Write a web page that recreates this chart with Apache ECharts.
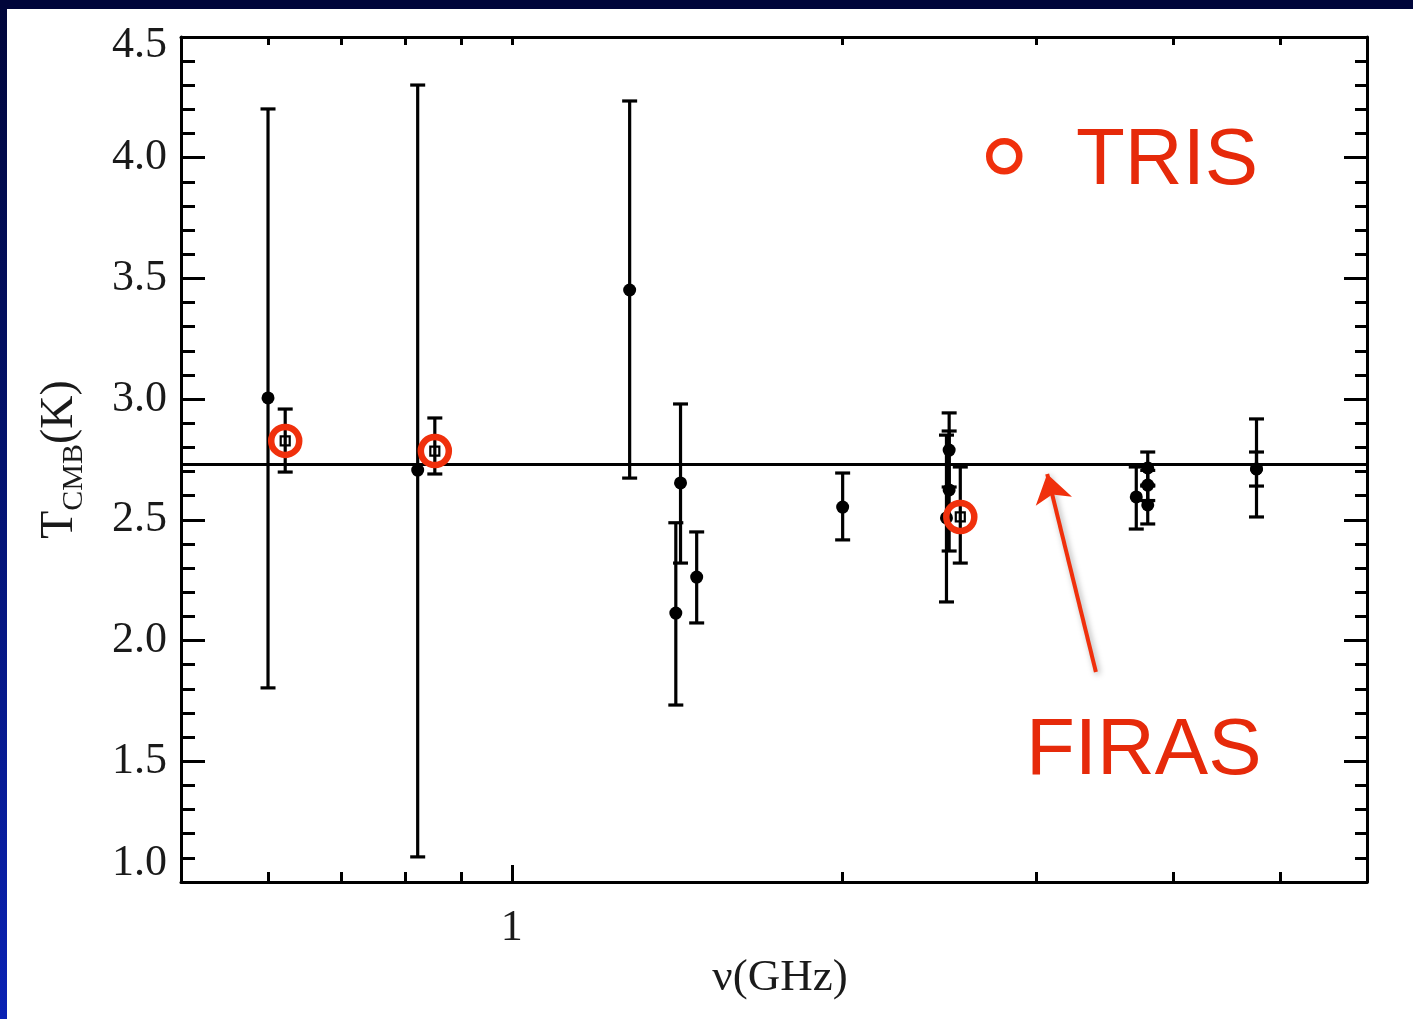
<!DOCTYPE html>
<html>
<head>
<meta charset="utf-8">
<script src="https://cdn.jsdelivr.net/npm/echarts@6/dist/echarts.min.js"></script>
<style>
  html, body { margin: 0; padding: 0; }
  body {
    width: 1413px; height: 1019px; overflow: hidden; position: relative;
    background: linear-gradient(to bottom, #00063a 0%, #03126e 45%, #0a22b4 100%);
  }
  #top { position: absolute; left: 0; top: 0; width: 1413px; height: 9px; background: #00053a; }
  #main { position: absolute; left: 7px; top: 9px; width: 1406px; height: 1010px; background: #fff; }
</style>
</head>
<body>
<div id="top"></div>
<div id="main"></div>
<script>
// T_CMB measurements vs frequency (log x)
var otherFreq = [0.600, 0.821, 1.28, 1.41, 1.424, 1.473, 2.00, 2.50, 2.50, 2.486, 3.70, 3.79, 3.79, 3.79, 4.76, 4.76];
var otherTemp = [3.005, 2.706, 3.452, 2.114, 2.653, 2.263, 2.553, 2.789, 2.624, 2.508, 2.595, 2.715, 2.644, 2.562, 2.711, 2.711];
var otherHigh = [4.202, 4.301, 4.235, 2.488, 2.980, 2.450, 2.694, 2.943, 2.868, 2.851, 2.719, 2.781, 2.705, 2.640, 2.781, 2.918];
var otherLow  = [1.804, 1.104, 2.673, 1.733, 2.321, 2.073, 2.417, 2.636, 2.371, 2.160, 2.462, 2.644, 2.580, 2.483, 2.640, 2.512];

var trisFreq = [0.622, 0.851, 2.559];
var trisTemp = [2.827, 2.785, 2.512];
var trisHigh = [2.959, 2.922, 2.719];
var trisLow  = [2.698, 2.690, 2.321];

var firasTemp = 2.725;
var arrowTail = [3.40, 1.87];
var arrowHead = [3.07, 2.69];

var xMinorTicks = [0.6, 0.7, 0.8, 0.9, 2, 3, 4, 5];
var xMajorTicks = [1];

var serif = 'Liberation Serif';
var red = '#f0300c';

function rows(f, t, hi, lo) {
    var out = [];
    for (var i = 0; i < f.length; i++) out.push([f[i], t[i], hi[i], lo[i]]);
    return out;
}

function errorBar(params, api) {
    var x = api.value(0);
    var top = api.coord([x, api.value(2)]);
    var bot = api.coord([x, api.value(3)]);
    var hw = 7.5;
    var st = { stroke: '#000', lineWidth: 3.2 };
    return {
        type: 'group',
        children: [
            { type: 'line', shape: { x1: top[0], y1: top[1], x2: bot[0], y2: bot[1] }, style: st },
            { type: 'line', shape: { x1: top[0] - hw, y1: top[1], x2: top[0] + hw, y2: top[1] }, style: st },
            { type: 'line', shape: { x1: bot[0] - hw, y1: bot[1], x2: bot[0] + hw, y2: bot[1] }, style: st }
        ]
    };
}

var otherData = rows(otherFreq, otherTemp, otherHigh, otherLow);
var trisData = rows(trisFreq, trisTemp, trisHigh, trisLow);

var chart = echarts.init(document.getElementById('main'));

var baseX = { type: 'log', logBase: 10, min: 0.5, max: 6, splitLine: { show: false } };
var baseY = { type: 'value', min: 1, max: 4.5, interval: 0.5, splitLine: { show: false } };

chart.setOption({
    animation: false,
    backgroundColor: '#fff',
    grid: { left: 174, right: 46, top: 28, bottom: 137, containLabel: false },
    xAxis: [
        echarts.util.merge({
            position: 'bottom',
            axisLine: { show: true, lineStyle: { color: '#000', width: 3 } },
            axisTick: { show: true, inside: true, length: 17, customValues: xMajorTicks, lineStyle: { color: '#000', width: 3 } },
            axisLabel: { show: true, customValues: xMajorTicks, margin: 24, fontFamily: serif, fontSize: 44, color: '#1a1a1a',
                formatter: function(v) { return String(Math.round(v)); } },
            name: 'ν(GHz)', nameLocation: 'middle', nameGap: 74,
            nameTextStyle: { fontFamily: serif, fontSize: 45, color: '#1a1a1a', padding: [0, 0, 0, 12] }
        }, baseX, true),
        echarts.util.merge({
            position: 'bottom',
            axisLine: { show: false },
            axisTick: { show: true, inside: true, length: 10, customValues: xMinorTicks, lineStyle: { color: '#000', width: 3 } },
            axisLabel: { show: false }
        }, baseX, true),
        echarts.util.merge({
            position: 'top',
            axisLine: { show: true, lineStyle: { color: '#000', width: 3 } },
            axisTick: { show: true, inside: true, length: 8, customValues: xMinorTicks.concat(xMajorTicks), lineStyle: { color: '#000', width: 3 } },
            axisLabel: { show: false }
        }, baseX, true)
    ],
    yAxis: [
        echarts.util.merge({
            position: 'left',
            axisLine: { show: true, lineStyle: { color: '#000', width: 3 } },
            axisTick: { show: true, inside: true, length: 24, lineStyle: { color: '#000', width: 3 } },
            minorTick: { show: true, splitNumber: 5, length: 14, lineStyle: { color: '#000', width: 3 } },
            axisLabel: { margin: 14, fontFamily: serif, fontSize: 44, color: '#1a1a1a',
                formatter: function(v) {
                    // end labels sit a little inside the frame, as in the original plot
                    if (v >= 4.5) return '{hi|' + v.toFixed(1) + '}';
                    if (v <= 1) return '{lo|' + v.toFixed(1) + '}';
                    return v.toFixed(1);
                },
                rich: {
                    hi: { fontFamily: serif, fontSize: 44, color: '#1a1a1a', padding: [16, 0, 0, 0] },
                    lo: { fontFamily: serif, fontSize: 44, color: '#1a1a1a', padding: [0, 0, 38, 0] }
                }
            },
            name: '{t|T}{s|CMB}{t|(K)}', nameLocation: 'middle', nameGap: 94,
            nameTextStyle: {
                rich: {
                    t: { fontFamily: serif, fontSize: 46, color: '#1a1a1a', lineHeight: 50, verticalAlign: 'top' },
                    s: { fontFamily: serif, fontSize: 30, color: '#1a1a1a', lineHeight: 30, verticalAlign: 'top', padding: [22, 0, 0, 0] }
                }
            }
        }, baseY, true),
        echarts.util.merge({
            position: 'right',
            axisLine: { show: true, lineStyle: { color: '#000', width: 3 } },
            axisTick: { show: true, inside: true, length: 23, lineStyle: { color: '#000', width: 3 } },
            minorTick: { show: true, splitNumber: 5, length: 12, lineStyle: { color: '#000', width: 3 } },
            axisLabel: { show: false }
        }, baseY, true)
    ],
    series: [
        {
            type: 'custom',
            name: 'measurements error',
            renderItem: errorBar,
            data: otherData,
            encode: { x: 0, y: [1, 2, 3] },
            markLine: {
                silent: true,
                symbol: ['none', 'none'],
                label: { show: false },
                lineStyle: { color: '#000', width: 3, type: 'solid' },
                data: [{ yAxis: firasTemp }]
            },
            z: 2
        },
        {
            type: 'scatter',
            name: 'measurements',
            data: otherData,
            symbol: 'circle',
            symbolSize: 13,
            itemStyle: { color: '#000', opacity: 1 },
            z: 3
        },
        {
            type: 'custom',
            name: 'TRIS error',
            renderItem: errorBar,
            data: trisData,
            encode: { x: 0, y: [1, 2, 3] },
            z: 4
        },
        {
            type: 'scatter',
            name: 'TRIS points',
            data: trisData,
            symbol: 'rect',
            symbolSize: 9,
            itemStyle: { color: 'rgba(255,255,255,0)', borderColor: '#000', borderWidth: 2.2, opacity: 1 },
            z: 5
        },
        {
            type: 'scatter',
            name: 'TRIS',
            data: trisData,
            symbol: 'circle',
            symbolSize: 28,
            itemStyle: { color: 'rgba(255,255,255,0)', borderColor: red, borderWidth: 6.5, opacity: 1 },
            markLine: {
                silent: true,
                symbol: ['none', 'arrow'],
                symbolSize: 28,
                label: { show: false },
                itemStyle: { color: red },
                lineStyle: { color: red, width: 4, type: 'solid', shadowBlur: 6, shadowColor: 'rgba(0,0,0,0.35)', shadowOffsetX: 2, shadowOffsetY: 2 },
                data: [[{ coord: arrowTail }, { coord: arrowHead }]]
            },
            z: 6
        }
    ],
    graphic: [
        { type: 'circle', left: 979, top: 129, shape: { r: 15 }, style: { fill: 'none', stroke: red, lineWidth: 6.5 } },
        { type: 'text', x: 1069, y: 113, style: { text: 'TRIS', fill: '#e62a0a', font: '80px "Liberation Sans", Arial, sans-serif' } },
        { type: 'text', x: 1019, y: 703, style: { text: 'FIRAS', fill: '#e62a0a', font: '80px "Liberation Sans", Arial, sans-serif' } }
    ]
});
</script>
</body>
</html>
